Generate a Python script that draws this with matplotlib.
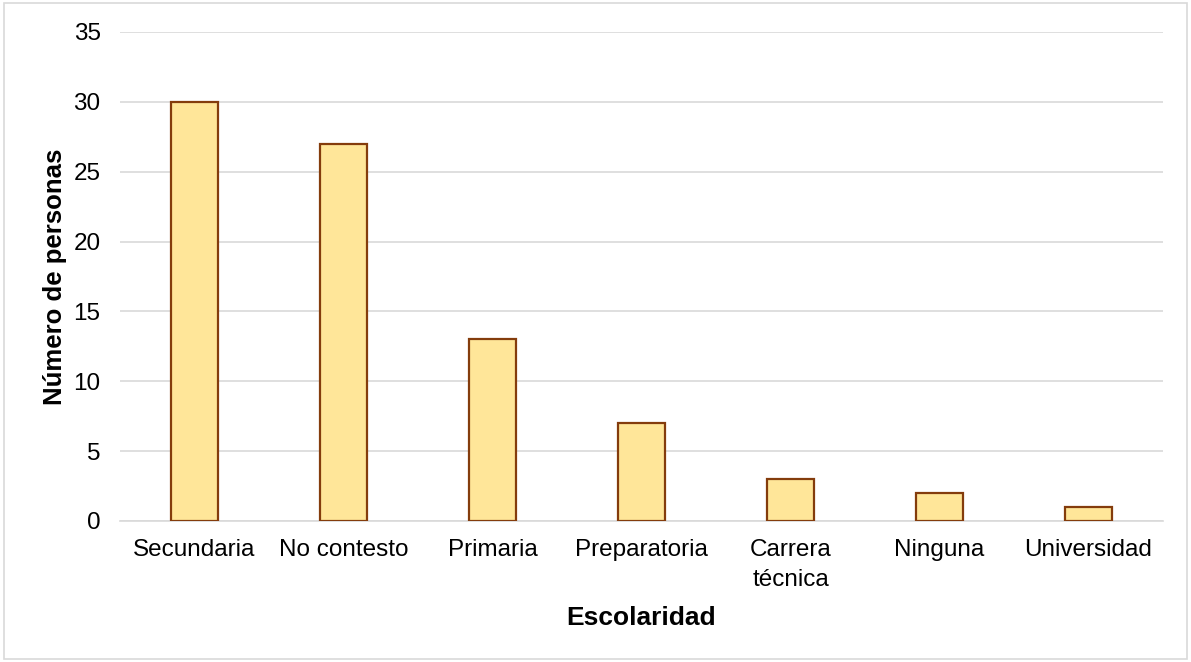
import numpy as np
import matplotlib.pyplot as plt
from matplotlib.patches import Rectangle

plt.rcParams['font.family'] = ['Liberation Sans', 'DejaVu Sans']

categorias = ['Secundaria', 'No contesto', 'Primaria', 'Preparatoria',
              'Carrera\ntécnica', 'Ninguna', 'Universidad']
personas = [30, 27, 13, 7, 3, 2, 1]
yticks = [0, 5, 10, 15, 20, 25, 30, 35]

fig = plt.figure(figsize=(11.91, 6.62), dpi=100)
ax = fig.add_axes([0.1008, 0.213, 0.8757, 0.7387])

x = np.arange(len(categorias))
ax.bar(x, personas, width=0.31, color='#FFE699', edgecolor='#843C0C',
       linewidth=1.6, zorder=3)

ax.set_xlim(-0.5, len(categorias) - 0.5)
ax.set_ylim(0, 35)
ax.set_yticks(yticks)
ax.set_xticks(x)
ax.set_xticklabels(categorias, linespacing=1.45)
ax.tick_params(axis='both', length=0, labelsize=17.5, colors='black')
ax.tick_params(axis='y', pad=14)
ax.tick_params(axis='x', pad=13)
ax.grid(axis='y', color='#D9D9D9', linewidth=1.2, zorder=0)
for s in ['top', 'right', 'left']:
    ax.spines[s].set_visible(False)
ax.spines['bottom'].set_color('#D9D9D9')
ax.spines['bottom'].set_linewidth(1.2)

ax.set_xlabel('Escolaridad', fontsize=19, fontweight='bold', labelpad=11)
ax.set_ylabel('Número de personas', fontsize=18.5, fontweight='bold', labelpad=4.5)

# borde exterior del gráfico
fig.patches.append(Rectangle((0.003, 0.004), 0.994, 0.992, transform=fig.transFigure,
                             fill=False, edgecolor='#D9D9D9', linewidth=1.2))

fig.savefig('out.png', dpi=100)
